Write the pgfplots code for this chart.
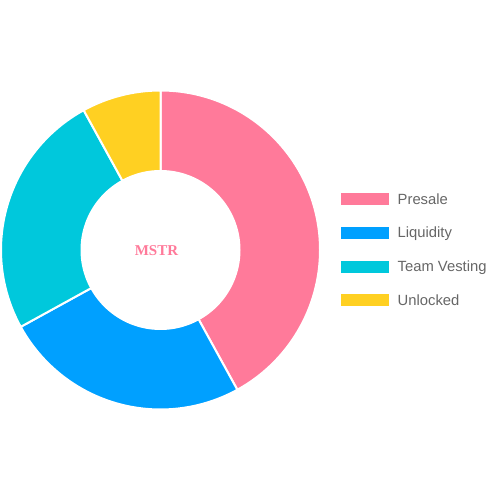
\documentclass[border=0pt]{standalone}
\usepackage{pgfplots}
\pgfplotsset{compat=1.18}
\usepackage{pgfplotstable}
\usepackage{fontspec}
\setmainfont{Liberation Sans}
\newfontfamily\titleserif{Liberation Serif}
\definecolor{cPresale}{HTML}{FF7A9A}
\definecolor{cLiquidity}{HTML}{00A0FF}
\definecolor{cTeam}{HTML}{00C8DC}
\definecolor{cUnlocked}{HTML}{FFD022}
\definecolor{textgray}{HTML}{666666}

\pgfplotstableread[col sep=comma]{
label,share,col
Presale,42,cPresale
Liquidity,25,cLiquidity
Team Vesting,25,cTeam
Unlocked,8,cUnlocked
}\data

\begin{document}
\begin{tikzpicture}
\begin{axis}[x=1pt,y=1pt,xmin=0,xmax=500,ymin=0,ymax=500,
  hide axis, clip=false, scale only axis]
\pgfplotsextra{
  \path (axis cs:0,0) rectangle (axis cs:500,500);
  \begin{pgfinterruptboundingbox}
  \gdef\cum{0}
  \pgfplotstablegetrowsof{\data}
  \pgfmathtruncatemacro\n{\pgfplotsretval-1}
  \foreach \i in {0,...,\n} {
    \pgfplotstablegetelem{\i}{share}\of\data \let\s\pgfplotsretval
    \pgfplotstablegetelem{\i}{col}\of\data \let\c\pgfplotsretval
    \pgfplotstablegetelem{\i}{label}\of\data \let\l\pgfplotsretval
    \pgfmathsetmacro\aA{90-3.6*\cum}
    \pgfmathsetmacro\aB{90-3.6*(\cum+\s)}
    \filldraw[fill=\c, draw=white, line width=2pt, line join=round]
      (axis cs:160.5,250) -- ++(\aA:159.5pt) arc[start angle=\aA, end angle=\aB, radius=159.5pt] -- cycle;
    \pgfmathsetmacro\newcum{\cum+\s}
    \xdef\cum{\newcum}
    % legend
    \pgfmathsetmacro\ly{301-33.8*\i}
    \pgfmathsetmacro\lyA{\ly-6}
    \pgfmathsetmacro\lyB{\ly+6}
    \pgfmathsetmacro\lyT{\ly-5.2}
    \fill[\c] (axis cs:341,\lyA) rectangle (axis cs:389,\lyB);
    \node[anchor=base west, text=textgray, font=\fontsize{14.8}{16}\selectfont, inner sep=0pt]
      at (axis cs:397.5,\lyT) {\l};
  }
  \fill[white] (axis cs:160.5,250) circle[radius=80pt];
  \node[text=cPresale, font=\titleserif\bfseries\fontsize{15}{17}\selectfont, inner sep=0pt]
    at (axis cs:156.5,249.5) {MSTR};
  \end{pgfinterruptboundingbox}
}
\end{axis}
\end{tikzpicture}
\end{document}
